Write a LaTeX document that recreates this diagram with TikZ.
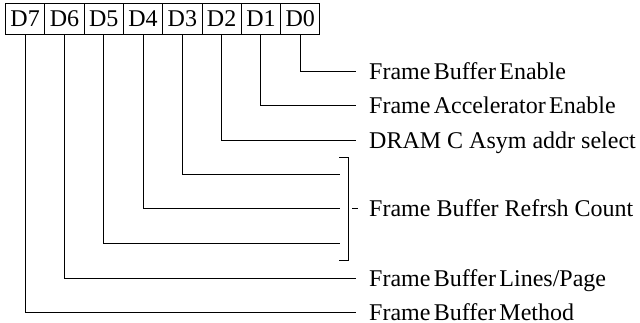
\documentclass[tikz,border=0pt]{standalone}
\usepackage{fontspec}
\setmainfont{Liberation Serif}
\begin{document}
\begin{tikzpicture}[x=1pt,y=-1pt,
  bitbox/.style={draw,line width=1pt,minimum width=39.3pt,minimum height=31pt,inner sep=0pt,anchor=north west,font=\fontsize{24}{26}\selectfont},
  lbl/.style={anchor=base west,inner sep=0pt,font=\fontsize{24}{26}\selectfont},
  tight/.style={lbl,execute at begin node={\spaceskip=0.14em plus 0.05em\relax}},
  wire/.style={line width=1pt}]
\useasboundingbox (0,0) rectangle (640,323);
\foreach \i/\n in {0/7,1/6,2/5,3/4,4/3,5/2,6/1,7/0}{
  \node[bitbox] (d\n) at ({5+39.3*\i},3) {D\n};
}
\node[tight] (l0) at (369,80) {Frame Buffer Enable};
\node[tight] (l1) at (369,114) {Frame Accelerator Enable};
\node[lbl] (l2) at (369,149) {DRAM C Asym addr select};
\node[lbl] (l345) at (369,217) {Frame Buffer Refrsh Count};
\node[tight] (l6) at (369,286) {Frame Buffer Lines/Page};
\node[tight] (l7) at (369,320) {Frame Buffer Method};
\coordinate (e0) at (356,72);
\coordinate (e1) at (356,106);
\coordinate (e2) at (356,141);
\coordinate (e3) at (340,175);
\coordinate (e4) at (340,209);
\coordinate (e5) at (340,244);
\coordinate (e6) at (356,278);
\coordinate (e7) at (356,312);
\foreach \n in {0,...,7}{
  \draw[wire] (d\n.south) |- (e\n);
}
\coordinate (bt) at (348,158);
\coordinate (bb) at (348,261);
\draw[wire] (339,158) -- (bt) -- (bb) -- (339,261);
\coordinate (tk) at (358,209);
\draw[wire] (352,209) -- (tk);
\end{tikzpicture}
\end{document}
